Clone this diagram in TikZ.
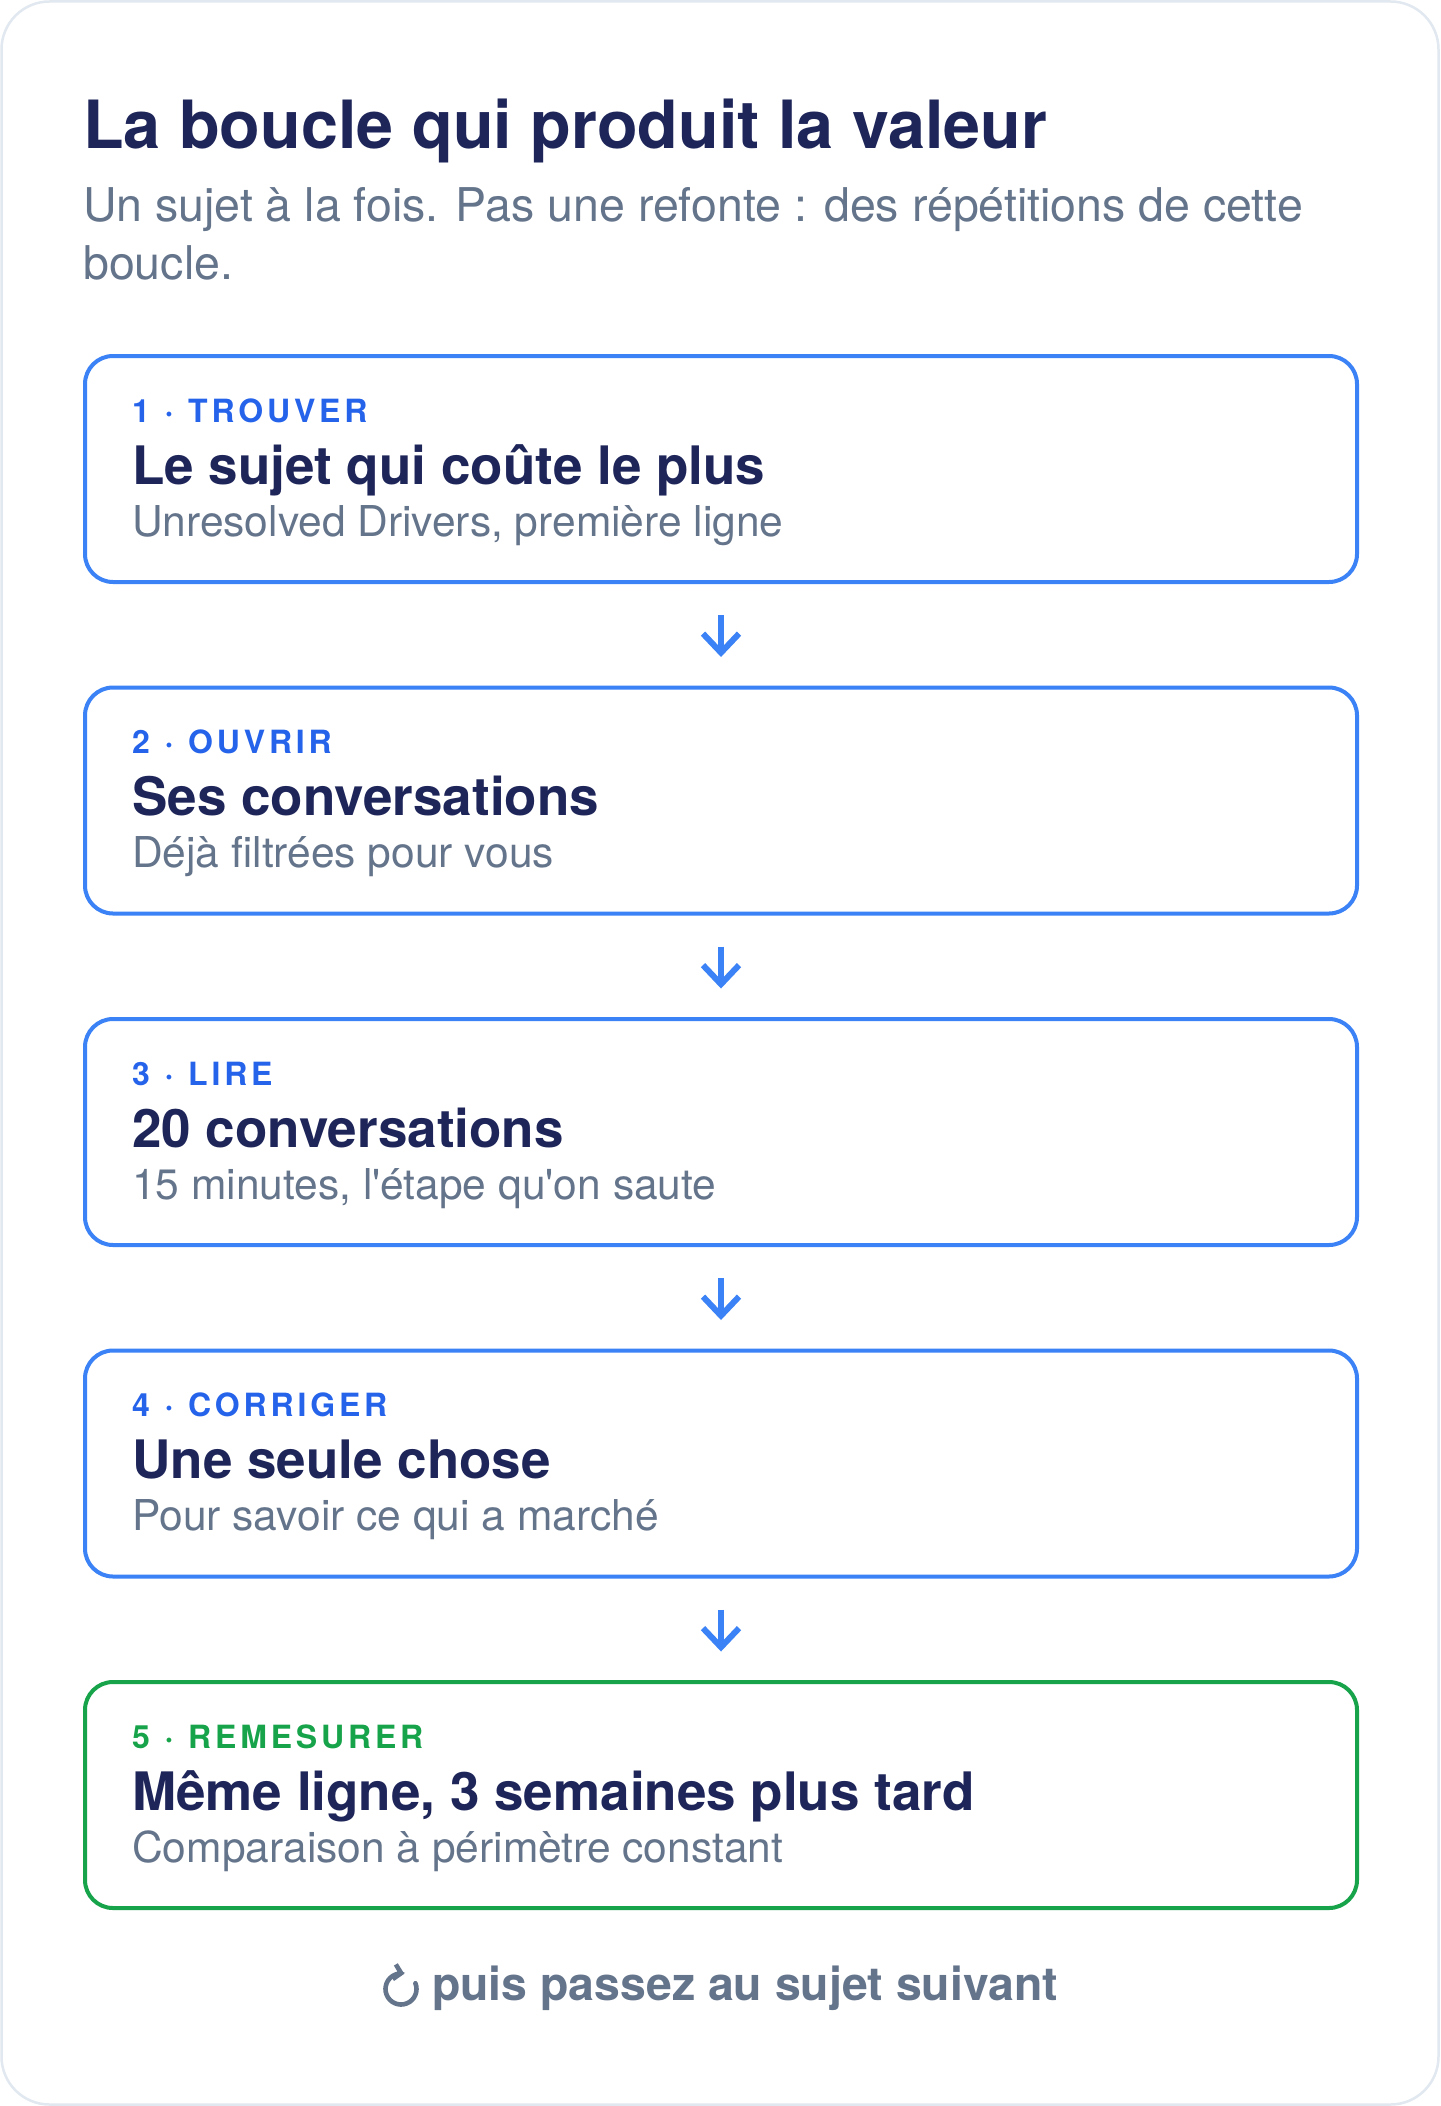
\documentclass[tikz,border=0pt]{standalone}
\usepackage{fontspec}
\setmainfont{TeX Gyre Heros}
\newfontfamily\tagfont[LetterSpace=12, WordSpace=1.15]{TeX Gyre Heros}
\usetikzlibrary{calc,positioning,arrows.meta}

\definecolor{navy}{HTML}{1E2559}
\definecolor{slate}{HTML}{64748B}
\definecolor{stepblue}{HTML}{3B82F6}
\definecolor{tagblue}{HTML}{2563EB}
\definecolor{stepgreen}{HTML}{16A34A}
\definecolor{cardline}{HTML}{E2E8F0}

\tikzset{
  stepbox/.style={draw=#1, line width=4pt, rounded corners=28pt, minimum width=1272pt, minimum height=226pt, inner sep=0pt, anchor=north west},
  steptag/.style={anchor=base west, inner sep=0pt, text=#1, font=\tagfont\bfseries\fontsize{32}{32}\selectfont},
  stephead/.style={anchor=base west, inner sep=0pt, text=navy, font=\bfseries\fontsize{53}{53}\selectfont},
  stepsub/.style={anchor=base west, inner sep=0pt, text=slate, font=\fontsize{42.5}{42.5}\selectfont},
  steparrow/.style={draw=stepblue, line width=6pt, -{Straight Barb[length=19pt,width=36pt]}, shorten <=31pt, shorten >=28.5pt}
}

\begin{document}
\begin{tikzpicture}[x=1pt, y=-1pt]
    \useasboundingbox (0,0) rectangle (1440,2106);
    \fill[white] (0,0) rectangle (1440,2106);
    \draw[cardline, line width=2.5pt, fill=white, rounded corners=48pt] (1.5,1.5) rectangle (1438.5,2104.5);

    % title
    \node[anchor=base west, inner sep=0pt, text=navy, font=\bfseries\fontsize{66.5}{66.5}\selectfont] (title) at (83,148) {La boucle qui produit la valeur};
    \node[anchor=base west, inner sep=0pt, text=slate, font=\fontsize{46.5}{46.5}\selectfont] (intro1) at (83,221.6) {Un sujet à la fois. Pas une refonte : des répétitions de cette};
    \node[anchor=base west, inner sep=0pt, text=slate, font=\fontsize{46.5}{46.5}\selectfont] (intro2) at (83,279.4) {boucle.};

    % steps
    \foreach \n/\rim/\ink/\lbl/\ttl/\txt in {
        1/stepblue/tagblue/{1 · TROUVER}/{Le sujet qui coûte le plus}/{Unresolved Drivers, première ligne},
        2/stepblue/tagblue/{2 · OUVRIR}/{Ses conversations}/{Déjà filtrées pour vous},
        3/stepblue/tagblue/{3 · LIRE}/{20 conversations}/{15 minutes, l\textquotesingle étape qu\textquotesingle on saute},
        4/stepblue/tagblue/{4 · CORRIGER}/{Une seule chose}/{Pour savoir ce qui a marché},
        5/stepgreen/stepgreen/{5 · REMESURER}/{Même ligne, 3 semaines plus tard}/{Comparaison à périmètre constant}} {
        \node[stepbox=\rim] (st\n) at (83,{354+331.5*(\n-1)}) {};
        \node[steptag=\ink] (tag\n) at ($(st\n.north west)+(49,68)$) {\lbl};
        \node[stephead] (head\n) at ($(st\n.north west)+(49,130)$) {\ttl};
        \node[stepsub] (sub\n) at ($(st\n.north west)+(49,182)$) {\txt};
    }

    % arrows between the steps
    \foreach \a/\b in {st1/st2, st2/st3, st3/st4, st4/st5} \draw[steparrow] (\a.south) -- (\b.north);

    % loop back
    \node[anchor=base west, inner sep=0pt, text=slate, font=\bfseries\fontsize{46.4}{46.4}\selectfont] (next) at (432,2000) {puis passez au sujet suivant};
    \coordinate (loop) at ($(next.base west)+(-31,-11)$);
    \draw[slate, line width=4.6pt, line cap=round, -{Straight Barb[length=7pt,width=15pt]}] ($(loop)+(-22:15.5)$) arc[start angle=-22, end angle=282, radius=15.5];
\end{tikzpicture}
\end{document}
